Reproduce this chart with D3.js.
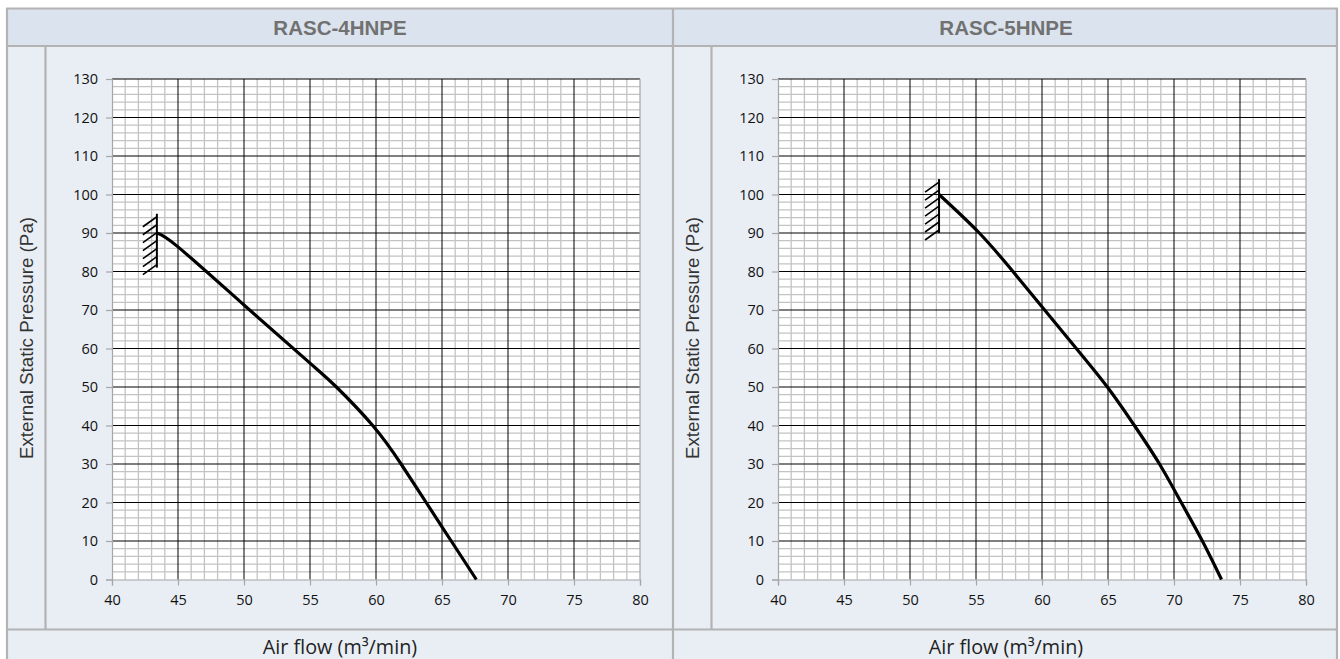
<!DOCTYPE html>
<html>
<head>
<meta charset="utf-8">
<script src="https://cdn.jsdelivr.net/npm/d3@7"></script>
<style>
  html, body { margin: 0; padding: 0; background: #ffffff; }
  svg { display: block; }
</style>
</head>
<body>
<svg id="chart" width="1340" height="659"></svg>
<script>
// ---------------- DATA ----------------
const models = ["RASC-4HNPE", "RASC-5HNPE"];
const xTickValues = [40, 45, 50, 55, 60, 65, 70, 75, 80];
const yTickValues = [0, 10, 20, 30, 40, 50, 60, 70, 80, 90, 100, 110, 120, 130];
const xTitle = "Air flow (m³/min)";
const yTitle = "External Static Pressure (Pa)";

// curve of RASC-4HNPE
const airflow4 = [43.4, 45, 50, 55, 57.0, 59.75, 61.9, 63.8, 65.7, 67.6];
const pressure4 = [90, 86.4, 71.3, 56.2, 50, 40, 30, 20, 10, 0];
// curve of RASC-5HNPE
const airflow5 = [52.2, 55.25, 57.8, 60.2, 62.6, 64.95, 67.0, 68.9, 70.55, 72.15, 73.6];
const pressure5 = [100, 90, 80, 70, 60, 50, 40, 30, 20, 10, 0];

// hatched limit marker (minimum air flow) for each model
const limitAirflow = [43.4, 52.2];
const limitTop = [95, 104];
const limitBottom = [81, 90];

const curves = [
  { x: airflow4, y: pressure4 },
  { x: airflow5, y: pressure5 }
];

// ---------------- LAYOUT / STYLE ----------------
const W = 1340, H = 659;
const outerL = 7, outerR = 1337, outerT = 8.5;
const headerB = 46, footerT = 629.5;
const divider = 673;
const panelOffset = [0, 666];
const colLine = 45.5;
const plotL = 112, plotR = 640, plotT = 79, plotB = 579.5;

const headerFill = "#dbe3ee";
const bodyFill = "#e9eef5";
const borderCol = "#b3b3b3";

const svg = d3.select("#chart");

// backgrounds
svg.append("rect").attr("x", outerL).attr("y", outerT).attr("width", outerR - outerL).attr("height", headerB - outerT).attr("fill", headerFill);
svg.append("rect").attr("x", outerL).attr("y", headerB).attr("width", outerR - outerL).attr("height", H - headerB + 5).attr("fill", bodyFill);

// frame lines
const frame = svg.append("g").attr("stroke", borderCol).attr("stroke-width", 2.2).attr("fill", "none");
frame.append("line").attr("x1", outerL - 1).attr("x2", outerR + 1).attr("y1", outerT).attr("y2", outerT);
frame.append("line").attr("x1", outerL).attr("x2", outerR).attr("y1", headerB).attr("y2", headerB);
frame.append("line").attr("x1", outerL).attr("x2", outerR).attr("y1", footerT).attr("y2", footerT);
frame.append("line").attr("x1", outerL).attr("x2", outerL).attr("y1", outerT).attr("y2", H + 5);
frame.append("line").attr("x1", outerR).attr("x2", outerR).attr("y1", outerT).attr("y2", H + 5);
frame.append("line").attr("x1", divider).attr("x2", divider).attr("y1", outerT).attr("y2", H + 5);

models.forEach((model, i) => {
  const off = panelOffset[i];
  const g = svg.append("g").attr("transform", `translate(${off},0)`);

  // column line
  g.append("line").attr("x1", colLine).attr("x2", colLine).attr("y1", headerB).attr("y2", footerT)
    .attr("stroke", borderCol).attr("stroke-width", 2.2);

  // header title
  g.append("text").attr("x", 340).attr("y", 34.5)
    .attr("text-anchor", "middle")
    .attr("font-family", "'Liberation Sans', Arial, sans-serif")
    .attr("font-weight", "bold").attr("font-size", 20.5)
    .attr("fill", "#717171").text(model);

  // footer title
  g.append("text").attr("x", 340).attr("y", 654)
    .attr("text-anchor", "middle")
    .attr("font-family", "'Open Sans', sans-serif")
    .attr("font-size", 19.8).attr("fill", "#222")
    .text(xTitle);

  // y title
  g.append("text")
    .attr("transform", `translate(${33},${338}) rotate(-90)`)
    .attr("text-anchor", "middle")
    .attr("font-family", "'Liberation Sans', Arial, sans-serif")
    .attr("font-size", 18.8).attr("fill", "#333")
    .text(yTitle);

  const x = d3.scaleLinear().domain([40, 80]).range([plotL, plotR]);
  const y = d3.scaleLinear().domain([0, 130]).range([plotB, plotT]);

  // plot area
  g.append("rect").attr("x", plotL).attr("y", plotT).attr("width", plotR - plotL).attr("height", plotB - plotT).attr("fill", "#fff");

  // minor grid
  const minorX = d3.range(40, 80.01, 1).filter(v => v % 5 !== 0);
  const minorY = d3.range(0, 130.01, 2).filter(v => v % 10 !== 0);
  const grid = g.append("g");
  grid.selectAll(".mx").data(minorX).join("line")
    .attr("x1", d => x(d)).attr("x2", d => x(d)).attr("y1", plotT).attr("y2", plotB)
    .attr("stroke", "#c3c3c3").attr("stroke-width", 1.3);
  grid.selectAll(".my").data(minorY).join("line")
    .attr("x1", plotL).attr("x2", plotR).attr("y1", d => y(d)).attr("y2", d => y(d))
    .attr("stroke", "#c3c3c3").attr("stroke-width", 1.3);

  // major grid
  grid.selectAll(".Mx").data(xTickValues.filter(v => v > 40 && v < 80)).join("line")
    .attr("x1", d => x(d)).attr("x2", d => x(d)).attr("y1", plotT).attr("y2", plotB)
    .attr("stroke", "#000").attr("stroke-width", 1);
  grid.selectAll(".My").data(yTickValues.filter(v => v > 0)).join("line")
    .attr("x1", plotL).attr("x2", plotR).attr("y1", d => y(d)).attr("y2", d => y(d))
    .attr("stroke", "#000").attr("stroke-width", 1);
  // right border of plot
  grid.append("line").attr("x1", plotR).attr("x2", plotR).attr("y1", plotT).attr("y2", plotB)
    .attr("stroke", "#a6a6a6").attr("stroke-width", 1.2);

  // axes
  const xAxis = g.append("g").attr("transform", `translate(0,${plotB})`)
    .call(d3.axisBottom(x).tickValues(xTickValues).tickSize(6).tickPadding(9).tickFormat(d3.format("d")));
  const yAxis = g.append("g").attr("transform", `translate(${plotL},0)`)
    .call(d3.axisLeft(y).tickValues(yTickValues).tickSize(6).tickPadding(8).tickFormat(d3.format("d")));
  [xAxis, yAxis].forEach(a => {
    a.select(".domain").attr("stroke", "#a6a6a6").attr("stroke-width", 1.2);
    a.selectAll(".tick line").attr("stroke", "#a6a6a6").attr("stroke-width", 1.2);
    a.selectAll(".tick text").attr("font-family", "'Open Sans', sans-serif").attr("font-size", 14.5).attr("fill", "#111");
  });
  xAxis.selectAll(".tick text").attr("dy", "0.75em");

  // limit marker (vertical line + hatching)
  const lx = x(limitAirflow[i]);
  const lt = y(limitTop[i]);
  const lb = y(limitBottom[i]);
  const marker = g.append("g").attr("stroke", "#000").attr("fill", "none");
  marker.append("line").attr("x1", lx).attr("x2", lx).attr("y1", lt).attr("y2", lb).attr("stroke-width", 2);
  const nH = 7;
  const hatchYs = d3.range(nH).map(k => lt + 3 + k * (lb - lt - 6) / (nH - 1));
  marker.selectAll(".h").data(hatchYs).join("line")
    .attr("x1", lx).attr("y1", d => d)
    .attr("x2", lx - 14).attr("y2", d => d + 10)
    .attr("stroke-width", 1.6);

  // curve
  const c = curves[i];
  const pts = c.x.map((v, k) => [v, c.y[k]]);
  g.append("path").datum(pts)
    .attr("d", d3.line().x(d => x(d[0])).y(d => y(d[1])).curve(d3.curveNatural))
    .attr("fill", "none").attr("stroke", "#000").attr("stroke-width", 3.2)
    .attr("stroke-linejoin", "round");
});
</script>
</body>
</html>
